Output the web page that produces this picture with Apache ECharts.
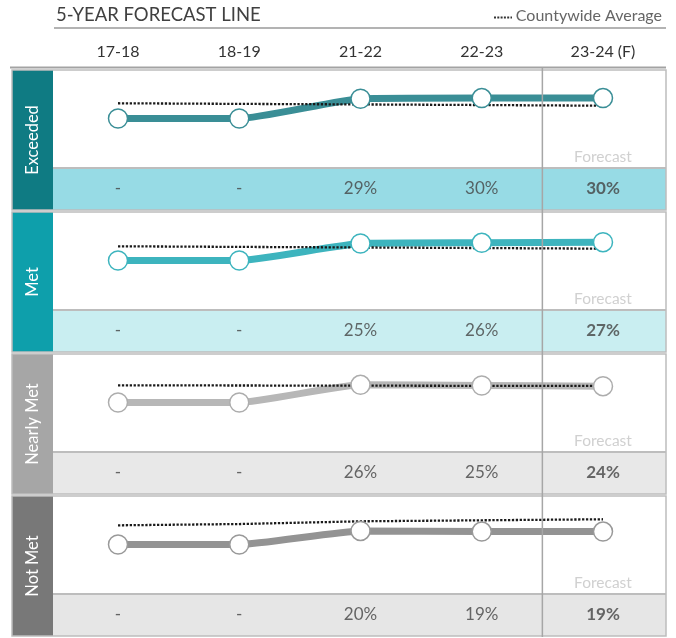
<!DOCTYPE html>
<html><head><meta charset="utf-8">
<script src="https://cdn.jsdelivr.net/npm/echarts@6/dist/echarts.min.js"></script>
<style>html,body{margin:0;padding:0;background:#fff}#c{width:676px;height:638px}</style>
</head><body><div id="c"></div>
<script>
// ---- data ----
const years = ['17-18', '18-19', '21-22', '22-23', '23-24 (F)'];
const bands = ['Exceeded', 'Met', 'Nearly Met', 'Not Met'];
// 0 = no reported value (shown as "-" in the table, drawn at baseline)
const exceeded  = [0, 0, 29, 30, 30];
const met       = [0, 0, 25, 26, 27];
const nearlyMet = [0, 0, 26, 25, 24];
const notMet    = [0, 0, 20, 19, 19];
// countywide average (dotted)
const avgExceeded  = [22.4, 21.5, 20.7, 19.8, 18.8];
const avgMet       = [20.9, 20.0, 19.2, 18.3, 17.4];
const avgNearlyMet = [25.3, 25.0, 24.8, 24.5, 24.3];
const avgNotMet    = [28.2, 30.1, 34.1, 35.6, 37.1];
const forecastIndex = 4;
const titleText = '5-YEAR FORECAST LINE';
const legendText = 'Countywide Average';
const forecastText = 'Forecast';

// ---- styles ----
const FONT = 'Lato, "Open Sans", sans-serif';
const values = [exceeded, met, nearlyMet, notMet];
const avgs = [avgExceeded, avgMet, avgNearlyMet, avgNotMet];
const boxColors  = ['#0f7b83', '#0e9fab', '#a6a6a6', '#787878'];
const lineColors = ['#3a8e96', '#3db4be', '#b7b7b7', '#939393'];
const markColors = ['#3a8e96', '#3db4be', '#adadad', '#999999'];
const rowColors  = ['#97dbe5', '#c9eef1', '#e8e8e8', '#e6e6e6'];
const P0 = 70, PSTEP = 142, PH = 140, CH = 98;
const LEFT = 12, BOXW = 41, RIGHT = 666;
const GX = 118, GW = 485;

const grid = [], xAxis = [], yAxis = [], series = [];
bands.forEach((b, i) => {
  const top = P0 + PSTEP * i;
  grid.push({left: GX, width: GW, top: top + 0.9, height: 47.6});
  xAxis.push({type: 'category', gridIndex: 2 * i, data: years, boundaryGap: false,
    position: 'top', axisLine: {show: false}, axisTick: {show: false}, splitLine: {show: false},
    axisLabel: {show: i === 0, margin: 11, color: '#333', fontSize: 16, fontFamily: FONT}});
  yAxis.push({type: 'value', gridIndex: 2 * i, min: 0, max: 70, show: false});
  grid.push({left: GX, width: GW, top: top + CH, height: PH - CH});
  xAxis.push({type: 'category', gridIndex: 2 * i + 1, data: years, boundaryGap: false, show: false});
  yAxis.push({type: 'value', gridIndex: 2 * i + 1, min: -1, max: 1, show: false});

  series.push({type: 'line', xAxisIndex: 2 * i, yAxisIndex: 2 * i, data: values[i], smooth: 0.15,
    showSymbol: false, lineStyle: {color: lineColors[i], width: 7}, z: 2, silent: true, animation: false});
  series.push({type: 'line', xAxisIndex: 2 * i, yAxisIndex: 2 * i, data: avgs[i], showSymbol: false,
    lineStyle: {color: '#1a1a1a', width: 2.3, type: [2.3, 1.6]}, z: 3, silent: true, animation: false});
  series.push({type: 'scatter', xAxisIndex: 2 * i, yAxisIndex: 2 * i, data: values[i], symbolSize: 19,
    itemStyle: {color: '#fff', opacity: 1, borderColor: markColors[i], borderWidth: 1.5}, z: 4, silent: true, animation: false});
  series.push({type: 'scatter', xAxisIndex: 2 * i + 1, yAxisIndex: 2 * i + 1,
    data: values[i].map((v, k) => ({value: [k, 0],
      label: {fontWeight: k === forecastIndex ? 'bold' : 'normal',
        formatter: v === 0 ? '-' : v + '%'}})),
    symbolSize: 1, itemStyle: {color: 'rgba(0,0,0,0)'},
    label: {show: true, position: 'inside', color: '#444', fontSize: 17, fontFamily: FONT},
    z: 5, silent: true, animation: false});
});

const chart = echarts.init(document.getElementById('c'), null, {renderer: 'canvas'});
chart.setOption({animation: false, grid, xAxis, yAxis, series});

const px = k => chart.convertToPixel({xAxisIndex: 0}, years[k]);
const divX = (px(forecastIndex - 1) + px(forecastIndex)) / 2;
const fX = px(forecastIndex);
const g = [];
g.push({type: 'text', x: 56, y: 15, style: {text: titleText, font: '18.5px ' + FONT, fill: '#404040', verticalAlign: 'middle'}});
g.push({type: 'line', shape: {x1: 54, y1: 28, x2: RIGHT, y2: 28}, style: {stroke: '#9a9a9a', lineWidth: 1.5}});
g.push({type: 'line', shape: {x1: 494, y1: 17.5, x2: 512, y2: 17.5}, style: {stroke: '#333', lineWidth: 2, lineDash: [2, 1.3]}});
g.push({type: 'text', x: 662, y: 16, style: {text: legendText, font: '16px ' + FONT, fill: '#666', align: 'right', verticalAlign: 'middle'}});
g.push({type: 'line', shape: {x1: 10, y1: 67.5, x2: RIGHT, y2: 67.5}, style: {stroke: '#a3a3a3', lineWidth: 2}});
bands.forEach((b, i) => {
  const top = P0 + PSTEP * i;
  g.push({type: 'rect', shape: {x: LEFT + BOXW, y: top + CH, width: RIGHT - LEFT - BOXW, height: PH - CH},
    style: {fill: rowColors[i]}, z: -10});
  g.push({type: 'rect', shape: {x: LEFT, y: top, width: BOXW, height: PH}, style: {fill: boxColors[i]}, z: -10});
  g.push({type: 'rect', shape: {x: LEFT, y: top, width: RIGHT - LEFT, height: PH},
    style: {fill: null, stroke: '#bdbdbd', lineWidth: 1.5}, z: -5});
  g.push({type: 'line', shape: {x1: LEFT + BOXW, y1: top + CH, x2: RIGHT, y2: top + CH},
    style: {stroke: '#bdbdbd', lineWidth: 2}, z: -5});
  g.push({type: 'text', x: LEFT + BOXW / 2, y: top + PH / 2, rotation: Math.PI / 2,
    style: {text: b, font: '16.5px ' + FONT, fill: '#fff', align: 'center', verticalAlign: 'middle'}});
  g.push({type: 'text', x: fX, y: top + 87, style: {text: forecastText, font: '15.5px ' + FONT, fill: '#d0d0d0',
    align: 'center', verticalAlign: 'middle'}});
});
g.push({type: 'line', shape: {x1: divX, y1: 68, x2: divX, y2: 637}, style: {stroke: '#a6a6a6', lineWidth: 1.5}, z: 100});
chart.setOption({graphic: g});
</script></body></html>
